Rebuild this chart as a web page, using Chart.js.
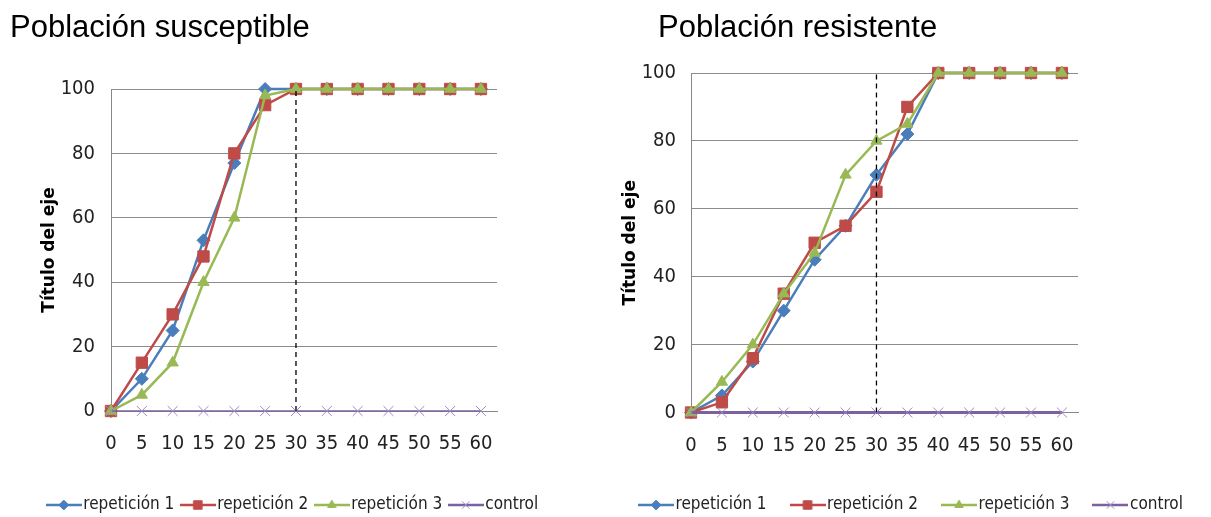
<!DOCTYPE html>
<html>
<head>
<meta charset="utf-8">
<script src="https://cdn.jsdelivr.net/npm/chart.js@4.4.0/dist/chart.umd.min.js"></script>
<style>
  body { margin: 0; background: #fff; width: 1211px; height: 517px; overflow: hidden; position: relative; }
  .titulo { position: absolute; top: 11px; font: 31px/31px "Liberation Sans", Arial, sans-serif; color: #000; white-space: nowrap; }
  .caja { position: absolute; top: 0; }
</style>
</head>
<body>
<div class="caja" style="left:0px"><canvas id="izq" width="605" height="540"></canvas></div>
<div class="caja" style="left:584px"><canvas id="der" width="660" height="540"></canvas></div>
<div class="titulo" style="left:10px">Población susceptible</div>
<div class="titulo" style="left:658px">Población resistente</div>
<script>
// minutos
const tiempos = [0, 5, 10, 15, 20, 25, 30, 35, 40, 45, 50, 55, 60];
const ticksY = [0, 20, 40, 60, 80, 100];
const corte = 30;

// Población susceptible
const susRep1 = [0, 10, 25, 53, 77, 100, 100, 100, 100, 100, 100, 100, 100];
const susRep2 = [0, 15, 30, 48, 80, 95, 100, 100, 100, 100, 100, 100, 100];
const susRep3 = [0, 5, 15, 40, 60, 98, 100, 100, 100, 100, 100, 100, 100];
const susControl = [0, 0, 0, 0, 0, 0, 0, 0, 0, 0, 0, 0, 0];

// Población resistente
const resRep1 = [0, 5, 15, 30, 45, 55, 70, 82, 100, 100, 100, 100, 100];
const resRep2 = [0, 3, 16, 35, 50, 55, 65, 90, 100, 100, 100, 100, 100];
const resRep3 = [0, 9, 20, 35, 47, 70, 80, 85, 100, 100, 100, 100, 100];
const resControl = [0, 0, 0, 0, 0, 0, 0, 0, 0, 0, 0, 0, 0];

const nombres = ["repetición 1", "repetición 2", "repetición 3", "control"];

const narrow = "'DejaVu Sans Condensed', 'Liberation Sans Narrow', sans-serif";

const estilos = [
  { color: "#4A7EBB", punto: "#4A7EBB", relleno: "#4A7EBB", forma: "rectRot", radio: 6.5, orden: 4 },
  { color: "#BE4B48", punto: "#BE4B48", relleno: "#BE4B48", forma: "rect", radio: 8, orden: 3 },
  { color: "#98B954", punto: "#98B954", relleno: "#98B954", forma: "triangle", radio: 6.5, orden: 2 },
  { color: "#7D60A0", punto: "#9A8CC4", relleno: "rgba(0,0,0,0)", forma: "crossRot", radio: 7, orden: 1 },
];

function icono(e) {
  const c = document.createElement("canvas");
  c.width = 36;
  c.height = 16;
  const g = c.getContext("2d");
  g.strokeStyle = e.color;
  g.lineWidth = 2.5;
  g.beginPath();
  g.moveTo(0, 8);
  g.lineTo(36, 8);
  g.stroke();
  g.fillStyle = e.relleno;
  g.strokeStyle = e.punto;
  g.lineWidth = 1;
  Chart.helpers.drawPoint(g, { pointStyle: e.forma, radius: e.radio * 0.75, rotation: 0, borderWidth: 1 }, 18, 8);
  return c;
}

function chart(id, series, cfg) {
  const iconos = estilos.map((e) => icono(e));

  let datasets = series.map((vals, i) => {
    const e = estilos[i];
    return {
      label: nombres[i],
      data: tiempos.map((t, j) => ({ x: t, y: vals[j] })),
      borderColor: e.color,
      backgroundColor: e.color,
      borderWidth: i == 3 ? cfg.anchoControl : 2.5,
      pointStyle: e.forma,
      pointRadius: e.radio,
      pointBackgroundColor: e.relleno,
      pointBorderColor: e.punto,
      pointBorderWidth: 1,
      order: e.orden,
      clip: false,
    };
  });
  datasets.push({
    label: "corte",
    data: [{ x: corte, y: 0 }, { x: corte, y: 100 }],
    borderColor: "#000",
    borderWidth: 1.3,
    borderDash: [5, 4],
    pointRadius: 0,
    order: 0,
  });

  var ctx = document.getElementById(id).getContext("2d");
  var myChart = new Chart(ctx, {
    type: "line",
    data: { datasets: datasets },
    options: {
      responsive: false,
      animation: false,
      layout: { padding: { top: cfg.arriba, bottom: cfg.abajo, right: cfg.derecha } },
      plugins: {
        tooltip: { enabled: false },
        legend: {
          display: true,
          position: "bottom",
          labels: {
            usePointStyle: true,
            pointStyleWidth: 22,
            padding: cfg.hueco,
            color: "#222",
            font: { family: narrow, size: 17 },
            filter: (item) => item.datasetIndex < 4,
            sort: (a, b) => a.datasetIndex - b.datasetIndex,
            generateLabels: (c) => {
              let items = Chart.defaults.plugins.legend.labels.generateLabels(c);
              items.forEach((it) => {
                if (it.datasetIndex < 4) it.pointStyle = iconos[it.datasetIndex];
              });
              return items;
            },
          },
        },
      },
      scales: {
        x: {
          type: "linear",
          min: 0,
          max: 62.6,
          afterBuildTicks: (s) => { s.ticks = tiempos.map((v) => ({ value: v })); },
          afterFit: (s) => { s.height = cfg.altoX; },
          grid: { display: false },
          border: { color: "#888", width: 1 },
          ticks: { padding: 13, autoSkip: false, maxRotation: 0, color: "#222", font: { family: narrow, size: 20 } },
        },
        y: {
          type: "linear",
          min: 0,
          max: 100,
          afterBuildTicks: (s) => { s.ticks = ticksY.map((v) => ({ value: v })); },
          afterFit: (s) => { s.width = cfg.anchoY; },
          grid: { color: "#8c8c8c", lineWidth: 1, drawTicks: false },
          border: { color: "#888", width: 1 },
          ticks: { padding: cfg.padTicks, color: "#222", font: { family: narrow, size: 20 } },
          title: {
            display: true,
            text: "Título del eje",
            color: "#000",
            font: { family: "'DejaVu Sans', sans-serif", weight: "bold", size: 17 },
            padding: { top: cfg.padTitulo, bottom: 0 },
          },
        },
        margen: {
          type: "linear",
          position: "right",
          display: true,
          grid: { display: false },
          border: { display: false },
          ticks: { display: false },
          afterFit: (s) => { s.width = cfg.anchoDer; },
        },
      },
    },
  });
  return myChart;
}

chart("izq", [susRep1, susRep2, susRep3, susControl], {
  arriba: 89, abajo: 16.5, derecha: 14, altoX: 73, anchoY: 111, anchoDer: 94,
  padTicks: 16, padTitulo: 39, hueco: 12.5, anchoControl: 1.5,
});

chart("der", [resRep1, resRep2, resRep3, resControl], {
  arriba: 73, abajo: 16.5, derecha: 0, altoX: 54, anchoY: 107, anchoDer: 166,
  padTicks: 15, padTitulo: 36, hueco: 30, anchoControl: 3,
});
</script>
</body>
</html>
